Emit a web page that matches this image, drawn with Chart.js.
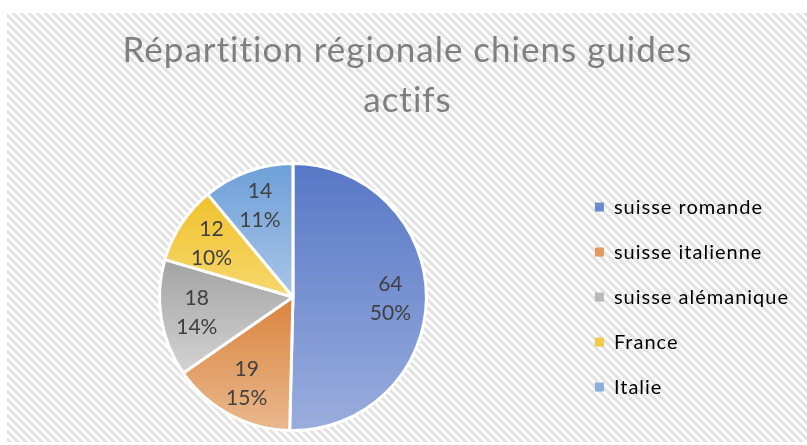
<!DOCTYPE html>
<html>
<head>
<meta charset="utf-8">
<script src="https://cdn.jsdelivr.net/npm/chart.js@4"></script>
<style>
    html, body { margin: 0; padding: 0; background: #ffffff; }
    #wrap { width: 807px; height: 445px; }
</style>
</head>
<body>
<div id="wrap"><canvas id="pieChart"></canvas></div>
<script>
const regions = ["suisse romande", "suisse italienne", "suisse alémanique", "France", "Italie"];
const dogCounts = [64, 19, 18, 12, 14];
const percentLabels = ["50%", "15%", "14%", "10%", "11%"];

// top and bottom colour of each slice gradient, plus a flat one for the legend
const topColors = ["#5777c6", "#db833d", "#a3a3a3", "#efc12a", "#6d9fd8"];
const bottomColors = ["#9aaddd", "#e9b98f", "#d3d3d3", "#f7d86f", "#a9c5e7"];
const legendColors = ["#6f8bcf", "#e09a62", "#b8b8b8", "#f3ca45", "#88b0df"];

const FONT = "Lato, 'Open Sans', sans-serif";
const SPACING = "1px";

// slice gradient, from the top of the slice down to its bottom
function sliceGradient(context) {
    const chart = context.chart;
    const area = chart.chartArea;
    const i = context.dataIndex;
    if (!area || i === undefined) return topColors[i || 0];

    const cx = (area.left + area.right) / 2;
    const cy = (area.top + area.bottom) / 2;
    const r = Math.min(area.right - area.left, area.bottom - area.top) / 2;
    const total = dogCounts.reduce((a, b) => a + b, 0);
    let before = 0;
    for (let k = 0; k < i; k++) before += dogCounts[k];
    const a0 = -Math.PI / 2 + before / total * Math.PI * 2;
    const a1 = a0 + dogCounts[i] / total * Math.PI * 2;

    let yMin = cy, yMax = cy;
    for (let s = 0; s <= 40; s++) {
        const a = a0 + (a1 - a0) * s / 40;
        const y = cy + r * Math.sin(a);
        yMin = Math.min(yMin, y);
        yMax = Math.max(yMax, y);
    }
    const grad = chart.ctx.createLinearGradient(0, yMin, 0, yMax);
    grad.addColorStop(0, topColors[i]);
    grad.addColorStop(1, bottomColors[i]);
    return grad;
}

// striped backdrop behind the whole chart; also spaces out title and legend text
const stripeBackground = {
    id: "stripeBackground",
    beforeLayout(chart) {
        chart.ctx.letterSpacing = SPACING;
    },
    beforeDraw(chart) {
        const ctx = chart.ctx;
        const tile = document.createElement("canvas");
        tile.width = 8;
        tile.height = 8;
        const t = tile.getContext("2d");
        t.fillStyle = "#ffffff";
        t.fillRect(0, 0, 8, 8);
        t.strokeStyle = "#e1e1e1";
        t.lineWidth = 3;
        t.beginPath();
        t.moveTo(-4, -4); t.lineTo(12, 12);
        t.moveTo(-4, 4); t.lineTo(4, 12);
        t.moveTo(4, -4); t.lineTo(12, 4);
        t.stroke();
        ctx.save();
        ctx.fillStyle = "#ffffff";
        ctx.fillRect(0, 0, chart.width, chart.height);
        ctx.fillStyle = ctx.createPattern(tile, "repeat");
        ctx.fillRect(7, 13, chart.width - 7, 429);
        ctx.restore();
        ctx.letterSpacing = SPACING;
    },
    beforeDatasetsDraw(chart) {
        chart.ctx.letterSpacing = "0px";
    },
};

// value and percent written inside each slice
const sliceLabels = {
    id: "sliceLabels",
    afterDatasetsDraw(chart) {
        const ctx = chart.ctx;
        const meta = chart.getDatasetMeta(0);
        ctx.save();
        ctx.letterSpacing = "0px";
        ctx.font = "21px " + FONT;
        ctx.fillStyle = "#404040";
        ctx.textAlign = "center";
        ctx.textBaseline = "middle";
        meta.data.forEach((arc, i) => {
            const mid = (arc.startAngle + arc.endAngle) / 2;
            const dist = arc.outerRadius * 0.73;
            const x = arc.x + Math.cos(mid) * dist;
            const y = arc.y + Math.sin(mid) * dist;
            ctx.fillText(String(dogCounts[i]), x, y - 14);
            ctx.fillText(percentLabels[i], x, y + 15);
        });
        ctx.restore();
    },
};

const pieChart = new Chart(document.getElementById("pieChart"), {
    type: "pie",
    data: {
        labels: regions,
        datasets: [
            {
                data: dogCounts,
                backgroundColor: sliceGradient,
                borderColor: "#ffffff",
                borderWidth: 3,
            },
        ],
    },
    options: {
        responsive: true,
        maintainAspectRatio: false,
        animation: false,
        layout: {
            padding: { left: 16, right: 8, top: 0, bottom: 13 },
        },
        plugins: {
            title: {
                display: true,
                text: ["Répartition régionale chiens guides", "actifs"],
                color: "#7f7f7f",
                font: { family: FONT, size: 35, weight: "normal", lineHeight: 1.43 },
                padding: { top: 26, bottom: 36 },
            },
            legend: {
                position: "right",
                fullSize: false,
                labels: {
                    color: "#595959",
                    font: { family: FONT, size: 20 },
                    boxWidth: 9,
                    boxHeight: 9,
                    padding: 25,
                    generateLabels: (chart) => regions.map((name, i) => ({
                        text: name,
                        fillStyle: legendColors[i],
                        strokeStyle: legendColors[i],
                        lineWidth: 0,
                        hidden: false,
                        index: i,
                    })),
                },
            },
            tooltip: { enabled: false },
        },
    },
    plugins: [stripeBackground, sliceLabels],
});
</script>
</body>
</html>
